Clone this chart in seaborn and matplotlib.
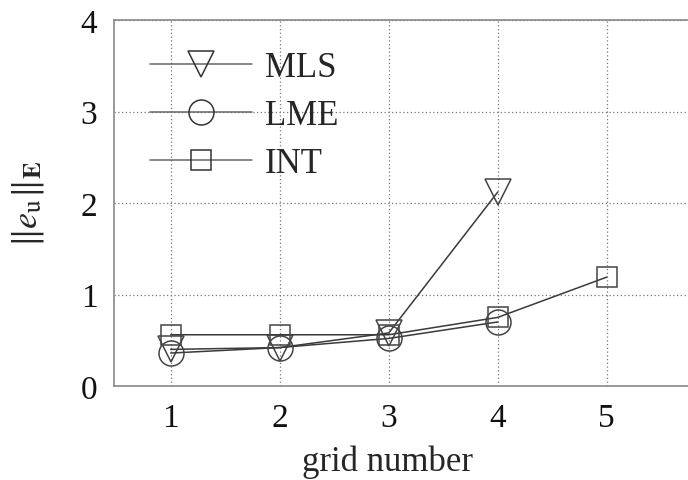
import numpy as np
import pandas as pd
import matplotlib
matplotlib.use("Agg")
import matplotlib.pyplot as plt
import seaborn as sns

grid_mls = [1, 2, 3, 4]
mls = [0.40, 0.42, 0.58, 2.12]
grid_lme = [1, 2, 3, 4]
lme = [0.36, 0.42, 0.52, 0.70]
grid_int = [1, 2, 3, 4, 5]
intp = [0.56, 0.56, 0.56, 0.75, 1.19]
xticks = [1, 2, 3, 4, 5]
yticks = [0, 1, 2, 3, 4]

sns.set_theme(style="white")
plt.rcParams['font.family'] = ['Liberation Serif', 'DejaVu Serif']
plt.rcParams['mathtext.fontset'] = 'stix'

fig = plt.figure(figsize=(6.88, 4.81), dpi=100)
ax = fig.add_axes([114/688, 94/481, 580/688, 366/481])

line_c = '#3a3a3a'
common = dict(color=line_c, lw=1.1, mfc='none', mec='#444444', mew=1.1, ax=ax)
sns.lineplot(x=grid_mls, y=mls, marker='v', ms=19, label='MLS', **common)
sns.lineplot(x=grid_lme, y=lme, marker='o', ms=18, label='LME', **common)
sns.lineplot(x=grid_int, y=intp, marker='s', ms=14.5, label='INT', **common)

ax.set_xlim(0.48, 5.8)
ax.set_ylim(0, 4)
ax.set_xticks(xticks)
ax.set_yticks(yticks)
ax.tick_params(axis='both', labelsize=24, length=0, pad=12, colors='#111111')
ax.grid(True, linestyle=(0, (1, 2)), color='#777777', lw=0.9)
for s in ax.spines.values():
    s.set_color('#888888')
    s.set_linewidth(1.2)
ax.set_xlabel('grid number', fontsize=25)
ax.xaxis.set_label_coords((388 - 114) / 580, -0.16)
ax.set_ylabel(r'$\Vert e_{\mathrm{u}}\Vert_{\mathbf{E}}$', fontsize=26)
ax.yaxis.set_label_coords(-0.118, 0.5)

leg = ax.legend(loc='upper left', frameon=False, fontsize=25, handlelength=2.95,
                handletextpad=0.37, labelspacing=0.44, borderaxespad=0.0,
                bbox_to_anchor=(0.0376, 0.954))
for h in leg.legend_handles:
    h.set_color('#666666')
    h.set_markeredgecolor('#333333')

fig.savefig('out.png', dpi=100)
